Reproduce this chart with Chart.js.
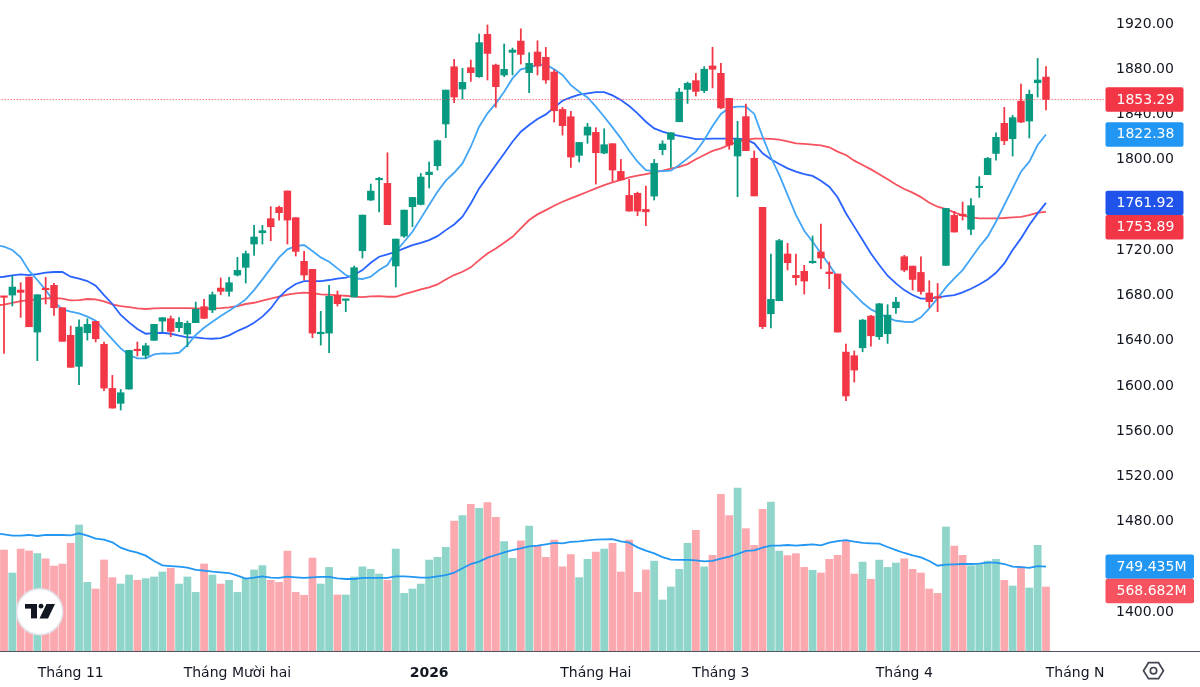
<!DOCTYPE html>
<html>
<head>
<meta charset="utf-8">
<title>Chart</title>
<script src="https://cdn.jsdelivr.net/npm/chart.js@4"></script>
<style>
  html, body { margin: 0; padding: 0; background: #fff; }
  canvas { display: block; }
</style>
</head>
<body>
<canvas id="stockChart" width="1200" height="687"></canvas>
<script>
// candles, one row of ten per line
const openPrice = [
  1678.9,1680.4,1684.8,1696.3,1647.7,1685.7,1689,1669.2,1644.8,1617.4,
  1647.1,1657.1,1636.8,1597.9,1584.7,1597.3,1632.4,1627.1,1640.4,1657.4,
  1659.5,1651.6,1646,1656,1670.1,1667.2,1686.6,1683.7,1698.1,1704.9,
  1725.5,1735.5,1747.9,1757.9,1772.4,1748.8,1710.2,1703.1,1646.2,1646.8,
  1680.4,1675.7,1678.7,1719.6,1764.4,1782.3,1779.1,1706.1,1732.5,1758.5,
  1760.5,1786.8,1794.7,1831.6,1882.2,1862.5,1881.4,1873.4,1910.8,1883.7,
  1874.9,1894.9,1904.9,1877,1895.2,1890.5,1877.5,1844.5,1838,1803.9,
  1821.8,1824.2,1805.9,1814.2,1789.7,1768.5,1770.3,1756.1,1767.9,1808.9,
  1818,1833.6,1862.2,1869.9,1861.1,1882.9,1876.4,1854.3,1803.3,1838.1,
  1801.3,1758,1663.9,1675.4,1716.7,1697.8,1701.4,1709,1718.5,1700.8,
  1699,1630,1626.8,1633.8,1661.8,1643.6,1646.2,1669.2,1714.3,1706,
  1700.4,1682.2,1678.6,1706.6,1750.8,1751.4,1738.5,1775.3,1786.8,1805.6,
  1832.2,1818.6,1851.9,1834.2,1868.1,1873.1
];
const closePrice = [
  1678.4,1687.5,1682.8,1652.4,1680.7,1685.1,1669.2,1639.5,1616.5,1652.1,
  1654.5,1641.8,1598.2,1580.5,1594.1,1631.5,1631.2,1635.6,1654.5,1660.4,
  1648.3,1656.3,1655.4,1667.8,1659.8,1680.7,1683.7,1691.3,1702.2,1717,
  1731.7,1737.3,1740.8,1753.2,1746.7,1719,1698.1,1646.8,1646.8,1679.3,
  1672.8,1676.9,1704.6,1751.1,1772.3,1783.5,1742.6,1729.9,1755.5,1766.7,
  1784.7,1789.1,1816.8,1861.6,1855.4,1868.4,1877,1903.5,1894,1864.6,
  1879.9,1897,1893.1,1885.2,1882.8,1870.5,1843.3,1830.1,1802.4,1815.3,
  1828.9,1806.2,1813.3,1790.9,1782.2,1754.6,1754.6,1754,1796.8,1813.9,
  1823.9,1859.8,1867.5,1860.4,1880,1880,1845.8,1813.1,1818.4,1808,
  1768,1652.4,1676.6,1728.5,1709,1695.8,1692.8,1710.2,1713.2,1699.3,
  1647.7,1591.2,1614.1,1658.3,1644.4,1672.7,1662.7,1674.2,1702.5,1694.2,
  1683.6,1674.5,1677.7,1757,1736.1,1750.5,1759.4,1775.9,1801.2,1819.8,
  1816.8,1837.2,1833.3,1857.8,1870.5,1853.29
];
const highPrice = [
  1678.9,1697.2,1691.3,1696.3,1680.7,1696,1690.7,1669.2,1653,1658.6,
  1659.5,1657.1,1638.9,1609.4,1597,1631.5,1638.9,1637.7,1654.5,1660.4,
  1661.9,1660.4,1657.4,1674.2,1676.6,1683.1,1695.5,1696,1713.7,1719.3,
  1742,1742,1758.5,1759.1,1772.4,1748.8,1719,1703.1,1666,1689,
  1684,1676.9,1706.1,1751.1,1778.5,1784.4,1806.2,1729.9,1755.5,1766.7,
  1787.9,1798,1817.4,1861.6,1888.7,1880.8,1888.1,1911.1,1919.1,1884.6,
  1902.3,1898.7,1915.8,1894.6,1905.2,1899.3,1879.3,1846.3,1842.8,1815.3,
  1832.1,1828.3,1827.4,1814.2,1800.3,1782.6,1771.4,1776.7,1800.3,1816.8,
  1823.9,1863.1,1868.7,1876.3,1882.3,1899.4,1885.3,1854.3,1834,1849.3,
  1807.8,1758,1716.7,1729.7,1726.1,1716.7,1706.7,1732.6,1743.2,1709.6,
  1699,1637.1,1631,1658.9,1662.4,1673,1671.9,1678.3,1715.5,1706,
  1714.3,1693.1,1690.7,1757,1754.4,1762.6,1765.6,1785,1802.1,1823.9,
  1846.3,1839.2,1866.9,1861.6,1889.6,1882.3
];
const lowPrice = [
  1628.9,1670.7,1660.7,1652.4,1622.4,1672.5,1662.5,1639.5,1616.5,1601.2,
  1640.6,1638.9,1595.9,1580.5,1578.8,1597.3,1626.5,1624.4,1640.4,1648,
  1643.6,1648,1634.8,1656,1659.8,1664.8,1680.7,1679.5,1697.2,1691,
  1715.5,1725.5,1728.5,1746.7,1725.5,1714.9,1693.7,1642.7,1636.2,1629.4,
  1670.7,1665.7,1678.7,1713.1,1763.8,1753.8,1742.6,1687.5,1731.4,1740.8,
  1760,1775,1790.9,1819.5,1850.4,1853.7,1869.3,1872.8,1870.5,1846.3,
  1873.4,1874.9,1884.6,1859.3,1874.9,1867.5,1833.3,1821.8,1793.2,1798,
  1814.5,1778.5,1805.3,1780.9,1782.2,1754.6,1750.5,1741.7,1764.4,1804.4,
  1793.2,1833.6,1849.8,1856.3,1859.3,1863.5,1845.2,1809.2,1767.4,1808,
  1768,1650.7,1651.3,1675.4,1702.6,1689.3,1681.3,1708.4,1703.7,1686.1,
  1647.7,1587,1603.5,1630.3,1635.3,1641.2,1637.7,1664.2,1701,1684.8,
  1681.3,1669.5,1665.7,1706.6,1736.1,1746.7,1733.7,1766.7,1786.8,1799.7,
  1813.3,1803.3,1832.8,1819.2,1855.4,1844
];
// volume in millions
const volume = [
  897,693,906,889,865,818,755,773,957,1120,
  610,551,809,652,595,675,628,643,658,702,
  735,595,658,521,773,675,595,628,521,646,
  720,758,628,610,889,521,495,826,595,743,
  498,498,658,749,726,684,628,906,512,551,
  595,809,832,921,1155,1203,1303,1268,1318,1188,
  972,823,980,1111,936,832,986,749,856,652,
  815,880,906,957,702,986,521,720,800,453,
  569,726,957,1072,749,850,1392,1203,1448,1087,
  939,1259,1324,889,847,865,743,717,693,815,
  850,980,684,791,637,809,743,782,818,726,
  693,551,512,1102,933,850,758,767,800,815,
  628,578,749,560,939,568.682
];
// moving averages, first value sits one bar left of the first candle
const maFast = [
  1724.6,1723.2,1720.2,1713.7,1702,1693.7,1684.8,1674.5,1667.8,1665.7,1664.2,
  1661.3,1657.7,1649.5,1641.2,1633.3,1627.4,1624.4,1624.4,1628,1628.9,
  1628.6,1629.4,1636.2,1645.1,1651.5,1656.9,1661.9,1666.6,1671.3,1676.6,
  1684.8,1694.3,1704,1713.7,1720.8,1723.7,1724.6,1719.3,1713.7,1709.9,
  1704,1698.1,1695.2,1694.6,1696.6,1702.5,1707,1718.7,1727.5,1736.4,
  1748.2,1760,1771.7,1781.5,1788.5,1796.8,1811.5,1829.2,1841,1849.8,
  1860.1,1871.9,1879.9,1881.7,1883.7,1884.3,1879.9,1874.9,1866,1860.1,
  1855.1,1846.9,1838,1828.6,1818.9,1808,1798.3,1790.9,1790,1790,
  1790.3,1795.3,1801.2,1807.2,1817.5,1829.9,1840.5,1845.8,1847,1847,
  1840.5,1820.4,1802.2,1786.6,1768.9,1751.2,1737.3,1727.6,1717.3,1707,
  1696.1,1688.4,1681,1673.6,1667.7,1664.2,1660.4,1657.7,1656.8,1656.5,
  1660.7,1668.6,1677.5,1687.2,1695.1,1702.5,1712.8,1723.1,1732,1745.2,
  1760,1774.7,1789.4,1798.3,1813,1822.38
];
const maMid = [
  1696,1696.6,1697.8,1698.7,1698.1,1699,1700.2,1700.8,1700.8,1696.6,1694.9,
  1692.8,1688.7,1680.4,1672.5,1662.8,1656.3,1650.4,1646.2,1646.8,1647.1,
  1646.2,1644.5,1643,1643,1642.1,1641.8,1642.4,1644.8,1648.6,1651.8,
  1656,1661.3,1668.6,1678.4,1685.4,1690.2,1692.8,1692.8,1692.8,1693.7,
  1694.9,1695.8,1698.1,1702.5,1709,1714.3,1716.3,1718.7,1721.6,1724.6,
  1726.6,1729,1732.5,1737.8,1742.8,1749.6,1761.4,1774.7,1785,1795.3,
  1805.6,1815.9,1824.8,1830.7,1836,1840.1,1846.3,1852.2,1855.1,1857.5,
  1858.7,1859.8,1859.8,1856.9,1852.8,1847.5,1841,1833.6,1827.7,1824.8,
  1822.7,1821.2,1819.8,1818.3,1818.4,1818.7,1818.7,1818.7,1818.7,1818.1,
  1814.5,1805.7,1800.4,1796.3,1792.4,1789.5,1787.4,1785.7,1781.5,1776.2,
  1766.8,1752.7,1740.9,1729,1717.2,1706.9,1697.5,1690.7,1684.8,1680.4,
  1677.2,1677.2,1678.3,1679.5,1680.4,1682.8,1686,1689.8,1694.2,1700.1,
  1708.4,1720.2,1730.5,1742.3,1752.6,1761.92
];
const maSlow = [
  1671.3,1671.9,1673.6,1675.1,1676,1676.6,1677.5,1677.8,1677.2,1675.7,1676,
  1676.9,1676.6,1674.8,1672.2,1670.7,1669.8,1668.6,1668.1,1668.6,1668.9,
  1668.9,1668.9,1668.9,1668.6,1668.3,1668.6,1668.9,1669.5,1670.7,1672.5,
  1673.6,1675.4,1677.2,1679,1680.7,1681.9,1682.5,1682.2,1681,1680.7,
  1680.1,1679.8,1679,1678.6,1679.2,1679.5,1678.9,1678.9,1681.3,1683.3,
  1685.4,1687.2,1689.8,1694.2,1698.1,1701,1704.9,1711.3,1717.2,1721.6,
  1726.6,1731.9,1739.3,1746.7,1751.7,1755.5,1759.4,1762.9,1765.8,1768.8,
  1771.7,1774.7,1777.6,1780,1782.3,1784.4,1785.9,1787.4,1788.8,1790.3,
  1792.1,1793.8,1796.2,1800.4,1804.2,1807.8,1810.1,1813.1,1816,1817.5,
  1818.7,1818.7,1818.4,1817.8,1816.3,1814.5,1814,1813.4,1812.8,1811,
  1807.2,1804.2,1799.2,1795.3,1791.5,1787.1,1782.7,1778.2,1774.1,1770.9,
  1767,1762,1758.5,1756.4,1753.5,1750.8,1749.1,1748.2,1748.2,1748.2,
  1748.5,1749.1,1749.6,1751.1,1753.2,1753.89
];
const maVolume = [
  1044,1037,1025,1025,1031,1022,1031,1031,1031,1028,1046,
  1025,998,989,966,918,892,874,847,800,761,
  755,749,741,720,714,705,699,693,669,643,
  652,663,652,649,661,655,649,655,658,658,
  646,640,640,649,649,649,649,663,663,658,
  652,652,663,675,696,735,773,794,829,853,
  877,897,912,930,936,948,960,957,969,975,
  983,989,992,995,975,963,921,892,868,835,
  812,809,809,806,797,800,820,838,862,889,
  895,918,936,936,942,936,942,948,939,963,
  977,986,972,960,957,954,924,897,871,850,
  832,800,758,767,770,773,773,776,785,785,
  773,749,746,738,755,749.435
];
// axis labels
const priceTicks = [1920,1880,1840,1800,1760,1720,1680,1640,1600,1560,1520,1480,1440,1400];
const timeTickBars = [8,28,51,71,86,108,128.5];
const timeTickLabels = ["Tháng 11","Tháng Mười hai","2026","Tháng Hai","Tháng 3","Tháng 4","Tháng N"];

const UP = "#089981", DOWN = "#F23645";
const UP_VOL = "rgba(34,171,148,0.5)", DOWN_VOL = "rgba(247,82,95,0.5)";
const FONT = "'DejaVu Sans', sans-serif";
const TEXT = "#131722";

const isUp = i => closePrice[i] >= openPrice[i];
const lineData = arr => arr.map((y, i) => ({ x: i - 1, y }));

const lineSet = (data, color, yAxisID, order) => ({
    type: "line", data, yAxisID, order,
    borderColor: color, borderWidth: 1.8, pointRadius: 0, tension: 0
});

// price tags on the right, pushed down when they overlap
const priceTags = [
    { value: closePrice[125], color: DOWN },
    { value: maFast[126], color: "#2196F3" },
    { value: maMid[126], color: "#2053EA" },
    { value: maSlow[126], color: DOWN }
];
const volumeTags = [
    { value: maVolume[126], color: "#2196F3" },
    { value: volume[125], color: "#F7525F" }
];

const overlayPlugin = {
    id: "overlay",
    afterDraw(chart) {
        const ctx = chart.ctx;
        ctx.save();

        // bottom line, right across the page
        ctx.strokeStyle = "#50535E";
        ctx.lineWidth = 1;
        ctx.beginPath();
        ctx.moveTo(0, 651.5);
        ctx.lineTo(1200, 651.5);
        ctx.stroke();

        const drawTags = (tags, scale, width, fmt) => {
            let lastBottom = -Infinity;
            tags.forEach(tag => {
                let top = scale.getPixelForValue(tag.value) - 12.2;
                if (top < lastBottom) top = lastBottom;
                ctx.fillStyle = tag.color;
                ctx.beginPath();
                ctx.roundRect(1105.5, top, width, 24.4, 2);
                ctx.fill();
                ctx.fillStyle = "#fff";
                ctx.font = "14px " + FONT;
                ctx.textAlign = "left";
                ctx.textBaseline = "middle";
                ctx.fillText(fmt(tag.value), 1116.5, top + 12.6);
                lastBottom = top + 24.4;
            });
        };
        drawTags(priceTags, chart.scales.y, 78, v => v.toFixed(2));
        drawTags(volumeTags, chart.scales.yVol, 88.5, v => v.toFixed(3) + "M");

        // logo badge
        ctx.fillStyle = "#fff";
        ctx.strokeStyle = "#E0E3EB";
        ctx.lineWidth = 1.5;
        ctx.beginPath();
        ctx.arc(39.7, 611.7, 23, 0, Math.PI * 2);
        ctx.fill();
        ctx.stroke();
        ctx.fillStyle = TEXT;
        ctx.fillRect(25, 604, 12, 4.6);
        ctx.fillRect(31, 604, 6, 14.4);
        ctx.beginPath();
        ctx.arc(41, 606.2, 2.4, 0, Math.PI * 2);
        ctx.fill();
        ctx.beginPath();
        ctx.moveTo(46.5, 604);
        ctx.lineTo(55, 604);
        ctx.lineTo(48, 618.4);
        ctx.lineTo(39.5, 618.4);
        ctx.closePath();
        ctx.fill();

        // settings hexagon
        ctx.strokeStyle = "#434651";
        ctx.lineWidth = 1.7;
        ctx.beginPath();
        ctx.moveTo(1143.5, 670.7);
        ctx.lineTo(1148.5, 662.7);
        ctx.lineTo(1158.5, 662.7);
        ctx.lineTo(1163.5, 670.7);
        ctx.lineTo(1158.5, 678.7);
        ctx.lineTo(1148.5, 678.7);
        ctx.closePath();
        ctx.stroke();
        ctx.beginPath();
        ctx.arc(1153.5, 670.7, 3.2, 0, Math.PI * 2);
        ctx.stroke();

        ctx.restore();
    }
};

new Chart(document.getElementById("stockChart"), {
    type: "bar",
    data: {
        datasets: [
            {
                data: volume.map((v, i) => ({ x: i, y: v })),
                yAxisID: "yVol", order: 10, barThickness: 7.1, grouped: false,
                backgroundColor: volume.map((v, i) => isUp(i) ? UP_VOL : DOWN_VOL)
            },
            lineSet(lineData(maVolume), "#2196F3", "yVol", 9),
            lineSet(lineData(maSlow), "#F7525F", "y", 8),
            lineSet(lineData(maMid), "#2962FF", "y", 7),
            lineSet(lineData(maFast), "#42A5F5", "y", 6),
            {
                data: lowPrice.map((v, i) => ({ x: i, y: [v, highPrice[i]] })),
                yAxisID: "y", order: 3, barThickness: 1.1, grouped: false,
                backgroundColor: lowPrice.map((v, i) => isUp(i) ? UP : DOWN)
            },
            {
                data: openPrice.map((v, i) => ({ x: i, y: [v, closePrice[i]] })),
                yAxisID: "y", order: 2, barThickness: 6.8, grouped: false, minBarLength: 1.5,
                backgroundColor: openPrice.map((v, i) => isUp(i) ? UP : DOWN)
            },
            {
                type: "line", yAxisID: "y", order: 1,
                data: [{ x: -1, y: closePrice[125] }, { x: 133, y: closePrice[125] }],
                borderColor: DOWN, borderWidth: 1, borderDash: [1, 2], pointRadius: 0
            }
        ]
    },
    options: {
        responsive: false,
        animation: false,
        events: [],
        layout: { padding: 0 },
        plugins: { legend: { display: false }, tooltip: { enabled: false } },
        scales: {
            x: {
                type: "linear",
                offset: false,
                min: -0.48,
                max: 132.08,
                grid: { display: false },
                border: { display: false },
                afterBuildTicks: scale => { scale.ticks = timeTickBars.map(value => ({ value })); },
                afterFit: scale => {
                    scale.height = 36;
                    scale.paddingLeft = 0;
                    scale.paddingRight = 0;
                },
                ticks: {
                    autoSkip: false,
                    maxRotation: 0,
                    padding: 6,
                    color: TEXT,
                    font: ctx => ({ family: FONT, size: 14, weight: ctx.tick && ctx.tick.value === 51 ? "bold" : "normal" }),
                    callback: value => timeTickLabels[timeTickBars.indexOf(value)]
                }
            },
            y: {
                position: "right",
                min: 1365.8,
                max: 1941.2,
                grid: { display: false },
                border: { display: false },
                afterBuildTicks: scale => { scale.ticks = priceTicks.map(value => ({ value })); },
                afterFit: scale => {
                    scale.width = 95;
                    scale.paddingTop = 0;
                    scale.paddingBottom = 0;
                },
                ticks: {
                    padding: 3,
                    color: TEXT,
                    font: { family: FONT, size: 14 },
                    callback: value => value.toFixed(2)
                }
            },
            yVol: { display: false, position: "left", min: 0, max: 5785 }
        }
    },
    plugins: [overlayPlugin]
});
</script>
</body>
</html>
